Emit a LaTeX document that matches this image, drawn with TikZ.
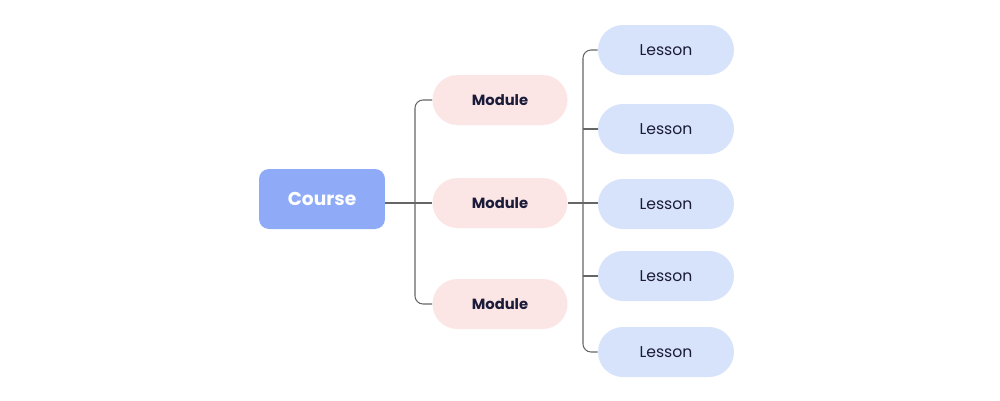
\documentclass[tikz,border=0pt]{standalone}
\usepackage{fontspec}
\setmainfont{Poppins}
\definecolor{coursefill}{HTML}{8FABF8}
\definecolor{modfill}{HTML}{FCE5E5}
\definecolor{lesfill}{HTML}{D7E3FB}
\definecolor{txtdark}{HTML}{1B1B3A}
\definecolor{linegray}{HTML}{666666}
\tikzset{
  coursebox/.style={fill=coursefill, rounded corners=0.2cm, minimum width=2.52cm, minimum height=1.2cm, inner sep=0pt, text=white, font=\fontsize{10.6}{13}\selectfont\bfseries},
  modbox/.style={fill=modfill, rounded corners=0.5cm, minimum width=2.7cm, minimum height=1cm, inner sep=0pt, text=txtdark, font=\fontsize{8.4}{10}\selectfont\bfseries},
  lesbox/.style={fill=lesfill, rounded corners=0.5cm, minimum width=2.72cm, minimum height=1cm, inner sep=0pt, text=txtdark, font=\fontsize{8.9}{10.5}\selectfont},
  conn/.style={draw=linegray, line width=0.6pt, rounded corners=0.16cm}
}
\begin{document}
\begin{tikzpicture}[x=0.02cm,y=-0.02cm]
\useasboundingbox[fill=white] (0,0) rectangle (1000,400);
\node[coursebox] (course) at (322,199) {Course};
\node[modbox] (m1) at (500,100) {Module};
\node[modbox] (m2) at (500,203) {Module};
\node[modbox] (m3) at (500,304) {Module};
\node[lesbox] (l1) at (666,50) {Lesson};
\node[lesbox] (l2) at (666,129) {Lesson};
\node[lesbox] (l3) at (666,204) {Lesson};
\node[lesbox] (l4) at (666,276) {Lesson};
\node[lesbox] (l5) at (666,352) {Lesson};
\coordinate (tA) at (415,203);
\coordinate (tB) at (583,203);
\draw[conn] (course.east |- m2) -- (m2.west);
\draw[conn] (m1.west) -| (tA) |- (m3.west);
\draw[conn] (m2.east) -- (l3.west |- m2);
\draw[conn] (l1.west) -| (tB) |- (l5.west);
\draw[conn] (l2.west) -- (l2.west -| tB);
\draw[conn] (l4.west) -- (l4.west -| tB);
\end{tikzpicture}
\end{document}
